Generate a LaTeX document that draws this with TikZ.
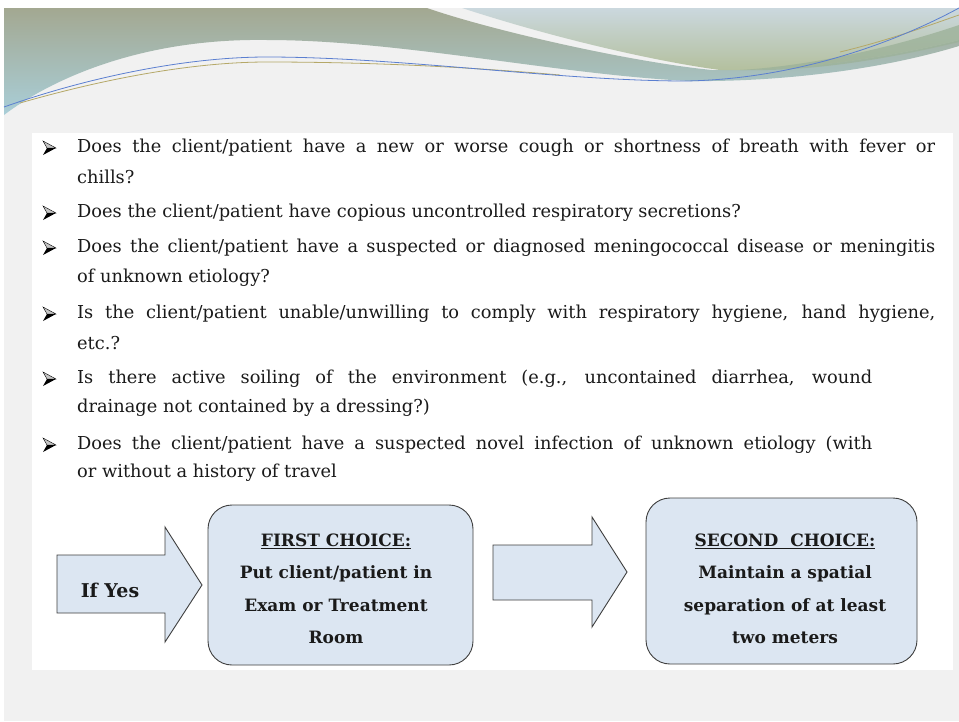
\documentclass[tikz,border=0pt]{standalone}
\usepackage{fontspec}
\setmainfont{DejaVu Serif}
\usepackage{tikz}
\usetikzlibrary{calc}
\usepackage{color}
\definecolor{paper}{HTML}{F1F1F1}
\definecolor{olive}{HTML}{A3A891}
\definecolor{skyband}{HTML}{A9CED8}
\definecolor{mist}{HTML}{CBD8DE}
\definecolor{sage}{HTML}{B3BF9C}
\definecolor{moss}{HTML}{9DB29A}
\definecolor{wireblue}{HTML}{5B7FD0}
\definecolor{wiregold}{HTML}{B5A868}
\definecolor{boxfill}{HTML}{DCE6F2}
\definecolor{boxline}{HTML}{3F3F3F}
\definecolor{ink}{HTML}{1A1A1A}

\begin{document}
\begin{tikzpicture}[x=1pt,y=-1pt,
  quest/.style={anchor=west,inner sep=0pt,text=ink,font=\fontsize{17.8}{22}\selectfont},
  choice/.style={draw=boxline,fill=boxfill,rounded corners=24pt,line width=0.9pt},
  choicetext/.style={align=center,inner sep=0pt,text=ink,font=\fontsize{17}{32.5}\selectfont\bfseries},
  blockarrow/.style={draw=boxline,fill=boxfill,line width=0.9pt,line join=miter}]
      \useasboundingbox (0,0) rectangle (959,721);
      \fill[white] (0,0) rectangle (959,721);
      \fill[paper] (4,8) rectangle (959,721);

      \shade[top color=olive,bottom color=skyband]
      (4,8) -- (427,8) .. controls (490,30) and (630,62) .. (712,70)
      .. controls (800,72) and (900,55) .. (959,40) -- (959,46)
      .. controls (880,70) and (780,82) .. (690,81)
      .. controls (560,75) and (400,40) .. (267,40)
      .. controls (140,38) and (50,80) .. (4,115) -- cycle;
      \shade[top color=mist,bottom color=sage]
      (462,8) -- (959,8) -- (959,40)
      .. controls (900,55) and (800,72) .. (720,70)
      .. controls (660,62) and (560,40) .. (462,8) -- cycle;
      \fill[moss,opacity=.8] (740,70) .. controls (820,65) and (900,45) .. (959,25) -- (959,42)
      .. controls (900,56) and (820,72) .. (740,70) -- cycle;
      \draw[wiregold,line width=.8pt] (20,103) .. controls (100,80) and (190,62) .. (267,62)
      .. controls (380,62) and (480,68) .. (560,75);
      \draw[wiregold,line width=.8pt] (840,52) .. controls (890,40) and (930,25) .. (959,15);
      \draw[wireblue,line width=.8pt] (4,107) .. controls (80,80) and (180,57) .. (267,57)
      .. controls (400,57) and (560,81) .. (686,81)
      .. controls (800,79) and (900,40) .. (959,8);

      \fill[white] (32,133) rectangle (953,670);

      \foreach \y in {148,213,248,314,379,445} {
        \filldraw[draw=black,fill=gray!45,line width=.4pt] (43,\y-7) -- (56,\y) -- (47,\y) -- cycle;
        \fill[black] (43,\y+7) -- (56,\y) -- (47,\y) -- cycle;
      }

      \node[quest] (q1) at (77,148) {\makebox[858pt][s]{Does the client/patient have a new or worse cough or shortness of breath with fever or}};
      \node[quest] (q1b) at (77,177) {chills?};
      \node[quest] (q2) at (77,213) {Does the client/patient have copious uncontrolled respiratory secretions?};
      \node[quest] (q3) at (77,248) {\makebox[858pt][s]{Does the client/patient have a suspected or diagnosed meningococcal disease or meningitis}};
      \node[quest] (q3b) at (77,278) {of unknown etiology?};
      \node[quest] (q4) at (77,314) {\makebox[858pt][s]{Is the client/patient unable/unwilling to comply with respiratory hygiene, hand hygiene,}};
      \node[quest] (q4b) at (77,343) {etc.?};
      \node[quest] (q5) at (77,379) {\makebox[795pt][s]{Is there active soiling of the environment (e.g., uncontained diarrhea, wound}};
      \node[quest] (q5b) at (77,408) {drainage not contained by a dressing?)};
      \node[quest] (q6) at (77,445) {\makebox[795pt][s]{Does the client/patient have a suspected novel infection of unknown etiology (with}};
      \node[quest] (q6b) at (77,473) {or without a history of travel};

      \draw[blockarrow] (57,555) -- (165,555) -- (165,527) -- (202,585) -- (165,642) -- (165,613) -- (57,613) -- cycle;
      \node[choicetext,font=\fontsize{19}{24}\selectfont\bfseries] (yes) at (110,590) {If Yes};
      \node[choice,minimum width=265pt,minimum height=160pt] (first) at (340.5,585) {};
      \node[choicetext] (firsttext) at (336,589)
      {\underline{FIRST CHOICE:}\\Put client/patient in\\Exam or Treatment\\Room};

      \draw[blockarrow] (493,545) -- (592,545) -- (592,517) -- (627,572) -- (592,627) -- (592,600) -- (493,600) -- cycle;
      \node[choice,minimum width=271pt,minimum height=166pt] (second) at (781.5,581) {};
      \node[choicetext] (secondtext) at (785,589)
      {\underline{SECOND\ \ CHOICE:}\\Maintain a spatial\\separation of at least\\two meters};
    \end{tikzpicture}
\end{document}
